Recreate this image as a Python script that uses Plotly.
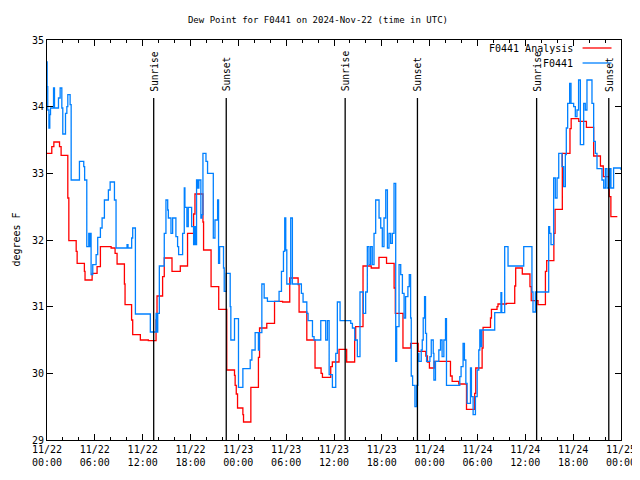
import plotly.graph_objects as go
import pandas as pd

# ---- data (hours after 2024-11-22 00:00 UTC, dew point in degrees F) ----
analysis_h = [0.00, 0.60, 0.86, 1.57, 1.77, 2.61, 2.74, 3.66, 3.78, 4.69, 4.77, 5.66, 6.28, 6.70, 8.04,
              8.54, 8.79, 9.71, 9.79, 10.61, 10.75, 11.71, 12.71, 13.68, 13.80, 14.50, 14.71, 15.68, 16.72,
              17.63, 18.39, 18.56, 19.56, 19.64, 20.58, 21.54, 22.55, 23.52, 23.60, 23.74, 23.90, 24.57,
              24.65, 25.57, 26.52, 26.66, 27.57, 28.54, 29.55, 30.45, 31.50, 31.62, 32.59, 33.62, 34.38,
              34.55, 35.59, 35.79, 36.63, 37.59, 38.59, 38.72, 39.64, 40.67, 41.64, 42.59, 43.54, 43.69,
              44.65, 45.61, 46.56, 47.52, 47.72, 47.97, 48.57, 50.61, 50.82, 51.65, 52.62, 53.65, 53.78,
              54.58, 54.70, 55.63, 55.75, 56.45, 56.57, 57.63, 58.67, 58.79, 59.62, 60.58, 60.74, 61.59,
              62.52, 62.68, 63.58, 63.73, 64.64, 65.60, 65.75, 66.70, 67.66, 68.57, 69.42, 69.78, 70.53,
              70.73, 71.54]
analysis_v = [33.30, 33.40, 33.47, 33.40, 33.27, 32.63, 31.99, 31.83, 31.65, 31.53, 31.40, 31.50, 31.60, 31.90, 31.88,
              31.80, 31.64, 31.34, 31.03, 30.80, 30.58, 30.50, 30.49, 30.80, 31.16, 31.45, 31.73, 31.53, 31.61,
              32.10, 32.39, 32.69, 32.27, 31.85, 31.30, 30.96, 30.05, 29.97, 29.82, 29.69, 29.48, 29.38,
              29.27, 29.79, 30.24, 30.68, 30.75, 31.08, 31.07, 31.43, 31.33, 30.92, 30.50, 30.08, 30.00,
              29.94, 30.10, 30.17, 30.36, 30.17, 30.50, 30.70, 31.61, 31.58, 31.74, 31.65, 31.28, 30.90,
              30.38, 30.45, 30.33, 30.26, 30.17, 30.08, 30.18, 29.96, 29.88, 29.84, 29.46, 29.70, 30.08,
              30.38, 30.69, 30.83, 30.96, 31.00, 31.04, 31.05, 31.31, 31.58, 31.49, 31.30, 31.09, 31.03,
              31.53, 31.69, 32.10, 32.46, 33.30, 33.67, 33.82, 33.78, 33.69, 33.26, 33.11, 32.95, 32.65,
              32.35, 32.35]

station_h = [0.00, 0.02, 0.09, 0.24, 0.35, 0.44, 0.82, 0.94, 1.44, 1.65, 1.86, 1.98, 2.32, 2.49, 2.61, 2.90,
             3.03, 4.07, 4.61, 4.72, 4.99, 5.24, 5.37, 5.43, 5.53, 5.74, 6.16, 6.36, 6.70, 6.91, 7.20, 7.70,
             7.92, 8.46, 8.66, 10.04, 10.16, 10.62, 10.75, 11.09, 12.96, 13.68, 13.79, 13.89, 14.09, 14.71,
             14.92, 15.14, 15.22, 15.55, 15.76, 16.17, 16.38, 16.51, 17.01, 17.22, 17.30, 17.55, 17.72,
             18.14, 18.39, 18.52, 18.60, 18.76, 18.89, 19.05, 19.30, 19.44, 19.56, 19.94, 20.14, 20.86,
             21.07, 21.40, 21.52, 21.65, 22.14, 22.23, 22.48, 22.98, 23.06, 23.52, 24.02, 24.57, 25.49,
             25.70, 26.11, 26.52, 26.63, 26.95, 27.24, 27.65, 29.11, 29.41, 29.66, 29.82, 29.95, 30.08,
             30.57, 30.78, 31.91, 32.12, 32.59, 32.75, 33.30, 33.50, 34.34, 34.96, 35.18, 35.39, 35.80,
             36.22, 36.42, 36.76, 38.10, 38.31, 38.60, 38.93, 39.26, 39.68, 39.97, 40.18, 40.39, 40.60,
             40.80, 41.02, 41.23, 41.65, 41.86, 42.06, 42.27, 42.49, 42.70, 42.90, 43.11, 43.32, 43.53,
             43.74, 43.86, 44.16, 44.37, 44.58, 44.79, 44.98, 45.27, 45.44, 45.61, 45.69, 45.86, 46.15,
             46.35, 46.52, 46.65, 46.94, 47.07, 47.19, 47.36, 47.48, 47.61, 48.03, 48.20, 48.45, 48.53,
             48.73, 49.15, 49.36, 49.56, 49.78, 49.99, 50.11, 51.78, 51.94, 52.19, 52.36, 52.54, 52.70,
             53.12, 53.24, 53.45, 53.74, 53.96, 54.16, 54.29, 54.42, 54.52, 56.16, 56.94, 57.04, 57.41,
             57.83, 59.80, 60.83, 60.96, 61.26, 62.93, 63.05, 63.22, 63.55, 63.76, 63.98, 64.19, 64.60,
             64.81, 65.02, 65.14, 65.31, 65.56, 65.73, 66.06, 66.27, 66.48, 66.68, 66.90, 67.32, 67.52,
             67.73, 68.36, 68.57, 68.78, 68.99, 69.61, 69.83, 70.04, 70.24, 70.57, 70.74, 71.07, 72.00]
station_v = [34.67, 34.30, 33.95, 33.68, 33.88, 33.98, 34.28, 33.98, 34.13, 34.28, 33.98, 33.59, 33.90, 34.00, 34.18, 34.03,
             32.90, 33.18, 33.10, 32.90, 31.90, 32.10, 31.90, 32.10, 31.48, 31.63, 31.78, 32.04, 32.18, 32.33, 32.60, 32.75,
             32.87, 32.60, 31.88, 31.93, 31.88, 32.03, 32.18, 30.89, 30.62, 30.90, 30.62, 30.90, 31.61, 32.10,
             32.60, 32.45, 32.33, 32.10, 32.33, 32.05, 31.90, 31.78, 32.10, 32.78, 32.49, 32.20, 32.49,
             32.20, 31.93, 32.20, 31.93, 32.90, 32.78, 32.90, 32.33, 32.38, 33.30, 33.18, 33.00, 32.03,
             32.30, 32.60, 31.65, 31.90, 31.58, 31.23, 31.50, 31.00, 30.50, 30.82, 29.79, 30.07, 30.20,
             30.35, 30.61, 30.35, 30.61, 31.34, 31.13, 31.08, 31.23, 31.53, 31.83, 32.33, 31.85, 31.34,
             32.33, 31.34, 31.20, 31.07, 30.90, 30.79, 30.55, 30.50, 30.79, 30.50, 30.79, 29.98, 29.79,
             30.30, 31.07, 30.79, 30.75, 30.68, 30.50, 30.25, 31.22, 30.90, 31.22, 31.90, 31.63, 31.90,
             31.63, 32.10, 32.60, 32.33, 32.18, 31.90, 32.33, 32.75, 31.88, 32.10, 31.95, 32.10, 32.85,
             30.18, 30.70, 31.63, 31.48, 31.20, 30.83, 31.15, 31.30, 31.48, 30.83, 29.96, 29.82, 29.50,
             29.82, 30.30, 30.18, 30.35, 30.50, 30.83, 31.15, 30.60, 30.18, 30.25, 30.50, 30.30, 29.90,
             30.18, 30.35, 30.50, 30.25, 30.50, 30.82, 29.82, 29.95, 30.10, 30.45, 30.20, 29.85, 29.55,
             30.08, 29.65, 29.38, 29.65, 30.05, 30.35, 30.65, 30.40, 30.65, 30.91, 31.21, 30.91, 31.90,
             31.61, 31.90, 31.22, 30.92, 31.22, 32.20, 32.10, 31.93, 32.93, 32.63, 32.93, 33.30, 33.10,
             32.80, 33.28, 33.68, 34.05, 34.35, 34.05, 34.00, 33.85, 33.95, 34.40, 33.43, 34.05, 33.95,
             34.40, 34.05, 33.48, 33.30, 33.07, 32.90, 32.78, 33.07, 32.78, 33.07, 32.78, 33.08, 33.05]

sun_times = ["2024-11-22 13:23", "2024-11-22 22:29", "2024-11-23 13:24",
             "2024-11-23 22:28", "2024-11-24 13:25", "2024-11-24 22:28"]
sun_labels = ["Sunrise", "Sunset", "Sunrise", "Sunset", "Sunrise", "Sunset"]

series_names = ["F0441 Analysis", "F0441"]
series_colors = ["#ff0000", "#0080ff"]

start = pd.Timestamp("2024-11-22 00:00")
end = pd.Timestamp("2024-11-25 00:00")


def to_time(hours):
    return [start + pd.Timedelta(hours=h) for h in hours]


FONT = "DejaVu Sans Mono"
# page body has an 8px margin, so the figure is sized to fit the 640x480 window
W, H = 632, 472
ML, MR, MT, MB = 38.5, 18.5, 31.5, 40
PW = W - ML - MR
PL = 8 + ML  # plot left edge in window pixels

fig = go.Figure()
fig.add_trace(go.Scatter(x=to_time(analysis_h), y=analysis_v, mode="lines", name=series_names[0],
                         line=dict(color=series_colors[0], width=1.3, shape="hv")))
fig.add_trace(go.Scatter(x=to_time(station_h), y=station_v, mode="lines", name=series_names[1],
                         line=dict(color=series_colors[1], width=1.3, shape="hv")))

shapes = []
annotations = []
for t, lab in zip(sun_times, sun_labels):
    shapes.append(dict(type="line", xref="x", yref="paper", x0=t, x1=t, y0=0, y1=0.855,
                       line=dict(color="black", width=1.3)))
    annotations.append(dict(x=t, xref="x", y=0.866, yref="paper", text=lab, textangle=-90,
                            xanchor="center", yanchor="bottom", showarrow=False,
                            font=dict(family=FONT, size=9.6, color="black")))

# gnuplot-style key: text right-aligned, sample line to the right
key_y = [0.98, 0.9425]
for name, col, ky in zip(series_names, series_colors, key_y):
    annotations.append(dict(x=(575 - PL) / PW, xref="paper", y=ky, yref="paper", text=name,
                            xanchor="right", yanchor="middle", showarrow=False,
                            font=dict(family=FONT, size=10, color="black")))
    shapes.append(dict(type="line", xref="paper", yref="paper", x0=(583 - PL) / PW, x1=(612 - PL) / PW,
                       y0=ky, y1=ky, line=dict(color=col, width=1.3)))

annotations.append(dict(x=(15 - PL) / PW, xref="paper", y=0.5, yref="paper", text="degrees F", textangle=-90,
                        xanchor="center", yanchor="middle", showarrow=False,
                        font=dict(family=FONT, size=10, color="black")))

fig.update_layout(
    width=W, height=H,
    margin=dict(l=ML, r=MR, t=MT, b=MB, autoexpand=False),
    paper_bgcolor="white", plot_bgcolor="white",
    showlegend=False,
    title=dict(text="Dew Point for F0441 on 2024-Nov-22 (time in UTC)", x=310 / W, xref="container",
               xanchor="center", y=1 - 12 / H, yanchor="middle",
               font=dict(family=FONT, size=9, color="black")),
    xaxis=dict(type="date", range=[start, end], tick0=start, dtick=6 * 3600 * 1000,
               tickformat="%m/%d<br>%H:%M", ticks="inside", ticklen=6, tickcolor="black",
               ticklabeloverflow="allow", automargin=False,
               mirror="allticks", showline=True, linecolor="black", linewidth=1,
               showgrid=False, zeroline=False,
               minor=dict(dtick=2 * 3600 * 1000, ticks="inside", ticklen=3, tickcolor="black", showgrid=False),
               tickfont=dict(family=FONT, size=10, color="black")),
    yaxis=dict(range=[29, 35], dtick=1, ticks="inside", ticklen=6, tickcolor="black",
               automargin=False,
               mirror="allticks", showline=True, linecolor="black", linewidth=1,
               showgrid=False, zeroline=False,
               tickfont=dict(family=FONT, size=10, color="black")),
    shapes=shapes, annotations=annotations,
)

fig.write_html("out.html")
